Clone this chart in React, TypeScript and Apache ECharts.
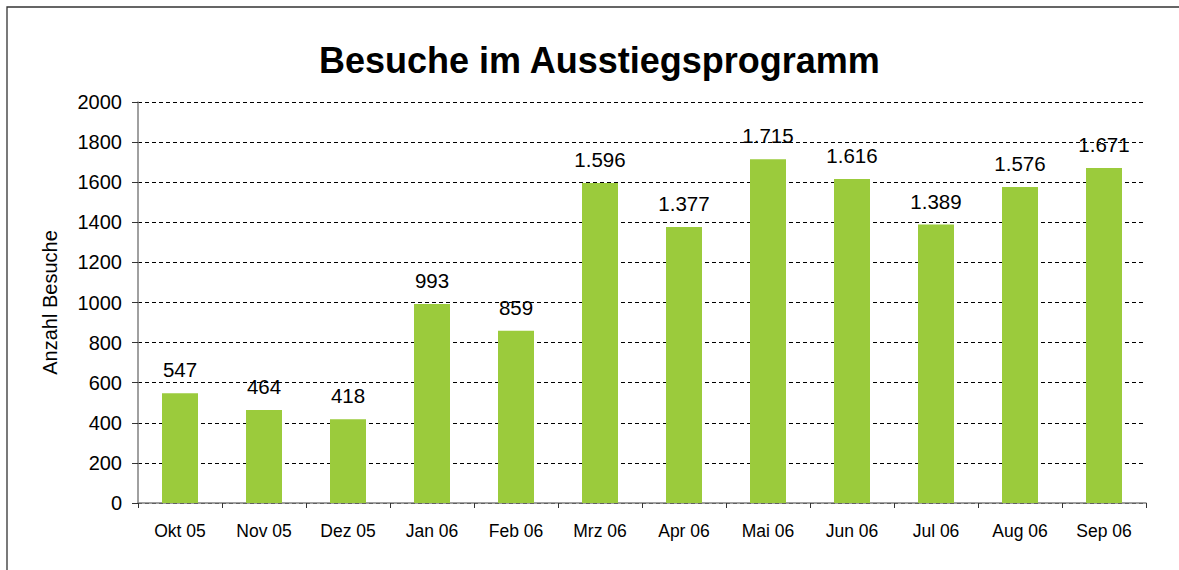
import React, { useEffect, useRef } from "react";
import * as echarts from "echarts";

const categories = ["Okt 05", "Nov 05", "Dez 05", "Jan 06", "Feb 06", "Mrz 06", "Apr 06", "Mai 06", "Jun 06", "Jul 06", "Aug 06", "Sep 06"];
const visits = [547, 464, 418, 993, 859, 1596, 1377, 1715, 1616, 1389, 1576, 1671];
const titleText = "Besuche im Ausstiegsprogramm";
const yAxisName = "Anzahl Besuche";

const FONT = '"Liberation Sans", Arial, Helvetica, sans-serif';

function fmtDE(v: number): string {
  return String(v).replace(/\B(?=(\d{3})+(?!\d))/g, ".");
}

export default function App() {
  const ref = useRef<HTMLDivElement>(null);
  useEffect(() => {
    document.body.style.margin = "0";
    if (!ref.current) return;
    const chart = echarts.init(ref.current, undefined, { renderer: "svg" });
    chart.setOption({
      animation: false,
      backgroundColor: "#ffffff",
      textStyle: { fontFamily: FONT },
      title: {
        text: titleText,
        left: 319,
        top: 42,
        padding: 0,
        textStyle: { fontFamily: FONT, fontSize: 36, fontWeight: "bold", color: "#000" },
      },
      graphic: [
        {
          type: "rect",
          shape: { x: 7, y: 7, width: 1300, height: 700 },
          style: { fill: "none", stroke: "#333", lineWidth: 1.3 },
          silent: true,
        },
      ],
      grid: { left: 138, right: 33, top: 102, bottom: 67, containLabel: false },
      xAxis: {
        type: "category",
        data: categories,
        axisLine: { show: true, lineStyle: { color: "#808080", width: 1.5 } },
        axisTick: { show: true, alignWithLabel: false, length: 5, lineStyle: { color: "#333" } },
        axisLabel: { color: "#000", fontSize: 17.5, fontFamily: FONT, margin: 19, interval: 0 },
        splitLine: { show: false },
      },
      yAxis: {
        type: "value",
        min: 0,
        max: 2000,
        interval: 200,
        name: yAxisName,
        nameLocation: "middle",
        nameGap: 78,
        nameTextStyle: { color: "#000", fontSize: 20, fontFamily: FONT },
        axisLine: { show: true, lineStyle: { color: "#808080", width: 1.5 } },
        axisTick: { show: true, length: 6, lineStyle: { color: "#333" } },
        axisLabel: { color: "#000", fontSize: 20, fontFamily: FONT, margin: 16, formatter: (v: number) => String(v) },
        splitLine: { show: true, lineStyle: { color: "#000", type: [4, 3], width: 1 } },
      },
      series: [
        {
          type: "bar",
          data: visits,
          barWidth: 36,
          itemStyle: { color: "#9BCB3C" },
          label: {
            show: true,
            position: "top",
            distance: 13,
            color: "#000",
            fontSize: 20.5,
            fontFamily: FONT,
            formatter: (p: any) => fmtDE(p.value),
          },
        },
      ],
    });
    return () => chart.dispose();
  }, []);
  return <div ref={ref} style={{ width: 1179, height: 570 }} />;
}
